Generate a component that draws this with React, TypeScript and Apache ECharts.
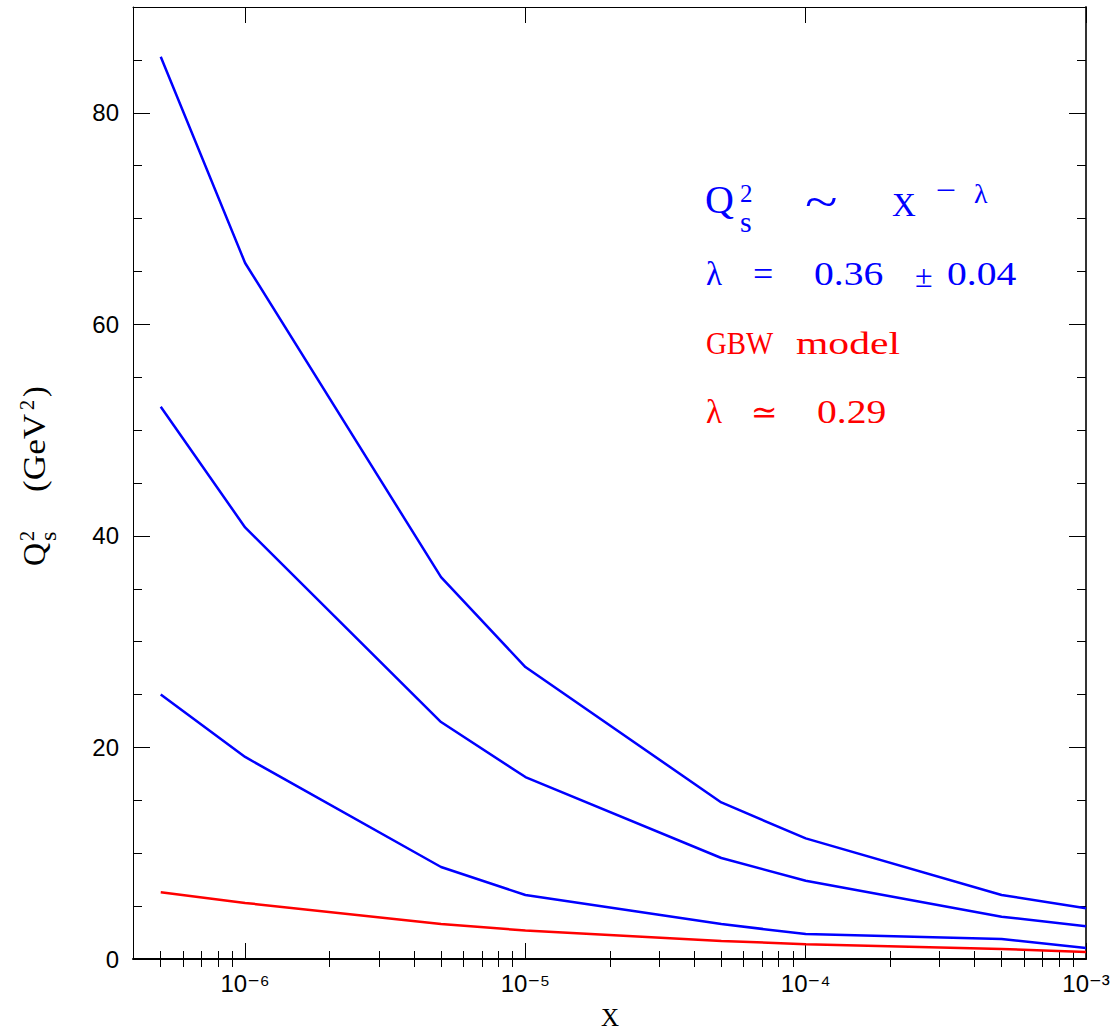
import React, { useEffect, useRef } from 'react';
import * as echarts from 'echarts';

// x values (Bjorken x) where the saturation scale was evaluated
const xValues = [5e-7, 1e-6, 5e-6, 1e-5, 5e-5, 1e-4, 5e-4, 1e-3];
// Q_s^2 (GeV^2) for the three fitted curves, top to bottom
const curveHigh = [85.3, 65.8, 36.1, 27.6, 14.8, 11.4, 6.05, 4.8];
const curveMid = [52.2, 40.8, 22.4, 17.2, 9.55, 7.4, 4.0, 3.1];
const curveLow = [25.0, 19.1, 8.7, 6.05, 3.3, 2.36, 1.9, 1.05];
// GBW model prediction
const curveGBW = [6.3, 5.3, 3.3, 2.7, 1.7, 1.4, 0.95, 0.66];

// axis ticks
const decadeTicks = [1e-6, 1e-5, 1e-4, 1e-3];
const minorMantissas = [2, 3, 4, 5, 6, 7, 8, 9];
const minorDecades = [1e-7, 1e-6, 1e-5, 1e-4];
const yLabelTicks = [0, 20, 40, 60, 80];

const X_MIN = Math.pow(10, -6.4);
const X_MAX = 1e-3;
const Y_MIN = 0;
const Y_MAX = 90;

const BLUE = '#0000ff';
const RED = '#ff0000';
const SERIF = '"Liberation Serif", "DejaVu Serif", serif';
const SANS = '"Liberation Sans", "DejaVu Sans", sans-serif';
const SUP_DIGITS = ['\u2070', '\u00b9', '\u00b2', '\u00b3', '\u2074', '\u2075', '\u2076', '\u2077', '\u2078', '\u2079'];

const minorTicks: number[] = [];
minorDecades.forEach((d) =>
  minorMantissas.forEach((m) => {
    const v = m * d;
    if (v > X_MIN * 1.01 && v < X_MAX) minorTicks.push(v);
  })
);

const pairs = (ys: number[]) => xValues.map((x, i) => [x, ys[i]]);

const powerLabel = (v: number) => {
  const e = Math.round(Math.log10(v));
  const digits = String(Math.abs(e))
    .split('')
    .map((c) => SUP_DIGITS[Number(c)])
    .join('');
  return '10' + (e < 0 ? '\u207b' : '') + digits;
};

function logAxis(position: 'top' | 'bottom', ticks: number[], len: number, line: any, withLabels: boolean) {
  return {
    type: 'log',
    logBase: 10,
    position,
    min: X_MIN,
    max: X_MAX,
    axisLine: line ? { show: true, onZero: false, lineStyle: line } : { show: false },
    axisTick: {
      show: true,
      inside: true,
      length: len,
      customValues: ticks,
      lineStyle: { color: '#000', width: 1 },
    },
    axisLabel: withLabels
      ? {
          show: true,
          customValues: ticks,
          margin: 12,
          fontSize: 24,
          fontFamily: SANS,
          color: '#000',
          hideOverlap: false,
          formatter: powerLabel,
        }
      : { show: false },
    splitLine: { show: false },
    minorTick: { show: false },
    minorSplitLine: { show: false },
  };
}

function valueAxis(position: 'left' | 'right', len: number, line: any, withLabels: boolean, custom?: number[]) {
  return {
    type: 'value',
    position,
    min: Y_MIN,
    max: Y_MAX,
    interval: 5,
    axisLine: line ? { show: true, onZero: false, lineStyle: line } : { show: false },
    axisTick: custom
      ? { show: true, inside: true, length: len, customValues: custom, lineStyle: { color: '#000', width: 1 } }
      : { show: true, inside: true, length: len, lineStyle: { color: '#000', width: 1 } },
    axisLabel: withLabels
      ? {
          show: true,
          customValues: yLabelTicks,
          margin: 14,
          fontSize: 24,
          fontFamily: SANS,
          color: '#000',
        }
      : { show: false },
    splitLine: { show: false },
  };
}

function txt(text: string, x: number, y: number, size: number, color: string, extra: any = {}, sx = 1) {
  return {
    type: 'text',
    x,
    y,
    scaleX: sx,
    scaleY: 1,
    silent: true,
    style: {
      text,
      fill: color,
      fontSize: size,
      fontFamily: SERIF,
      verticalAlign: 'middle',
      align: 'left',
      ...extra,
    },
  };
}

export default function App() {
  const ref = useRef<HTMLDivElement>(null);

  useEffect(() => {
    document.body.style.margin = '0';
    if (!ref.current) return;
    const chart = echarts.init(ref.current, undefined, { renderer: 'svg' });

    const lineSeries = (name: string, ys: number[], color: string) => ({
      name,
      type: 'line',
      xAxisIndex: 0,
      yAxisIndex: 0,
      data: pairs(ys),
      showSymbol: false,
      symbol: 'none',
      lineStyle: { color, width: 2.5 },
      z: 3,
    });

    chart.setOption({
      animation: false,
      backgroundColor: '#ffffff',
      grid: { left: 133, right: 31, top: 7, bottom: 74, containLabel: false },
      xAxis: [
        logAxis('bottom', decadeTicks, 16, { color: '#000', width: 2 }, true),
        logAxis('bottom', minorTicks, 8, null, false),
        logAxis('top', decadeTicks, 16, { color: '#000', width: 1 }, false),
        logAxis('top', minorTicks, 8, null, false),
      ],
      yAxis: [
        valueAxis('left', 9, { color: '#000', width: 1 }, true),
        valueAxis('left', 17, null, false, yLabelTicks),
        valueAxis('right', 9, { color: '#333', width: 2 }, false),
        valueAxis('right', 17, null, false, yLabelTicks),
      ],
      series: [
        lineSeries('high', curveHigh, BLUE),
        lineSeries('mid', curveMid, BLUE),
        lineSeries('low', curveLow, BLUE),
        lineSeries('GBW model', curveGBW, RED),
      ],
      graphic: [
        // Q_s^2 ~ x^-lambda
        txt('Q', 705, 199, 40, BLUE),
        txt('2', 740, 193, 25, BLUE),
        txt('s', 740, 221, 30, BLUE),
        txt('~', 805, 202, 48, BLUE, {}, 1.25),
        txt('X', 892, 205, 33, BLUE),
        txt('\u2212', 936, 190, 30, BLUE, {}, 1.2),
        txt('\u03bb', 974, 193, 28, BLUE),
        // lambda = 0.36 +- 0.04
        txt('\u03bb', 706, 274, 33, BLUE),
        txt('=', 753, 274, 36, BLUE),
        txt('0.36', 814, 274, 33, BLUE, {}, 1.2),
        txt('\u00b1', 915, 276, 32, BLUE),
        txt('0.04', 947, 274, 33, BLUE, {}, 1.2),
        // GBW model
        txt('GBW', 706, 343, 32, RED, {}, 0.9),
        txt('model', 796, 343, 32, RED, {}, 1.3),
        // lambda ~= 0.29
        txt('\u03bb', 706, 412, 33, RED),
        txt('\u2243', 751, 412, 32, RED),
        txt('0.29', 817, 412, 33, RED, {}, 1.2),
        // axis titles
        txt('X', 610, 1017, 25, '#000', { align: 'center' }),
        {
          type: 'group',
          x: 38,
          y: 474,
          rotation: Math.PI / 2,
          silent: true,
          children: [
            txt('Q', -92, -4, 32, '#000'),
            txt('2', -67, -11, 20, '#000'),
            txt('s', -67, 10, 24, '#000'),
            txt('(GeV', -18, -4, 32, '#000', {}, 1.1),
            txt('2', 64, -11, 20, '#000'),
            txt(')', 77, -4, 32, '#000'),
          ],
        },
      ],
    });

    return () => chart.dispose();
  }, []);

  return <div ref={ref} style={{ width: 1117, height: 1033 }} />;
}
